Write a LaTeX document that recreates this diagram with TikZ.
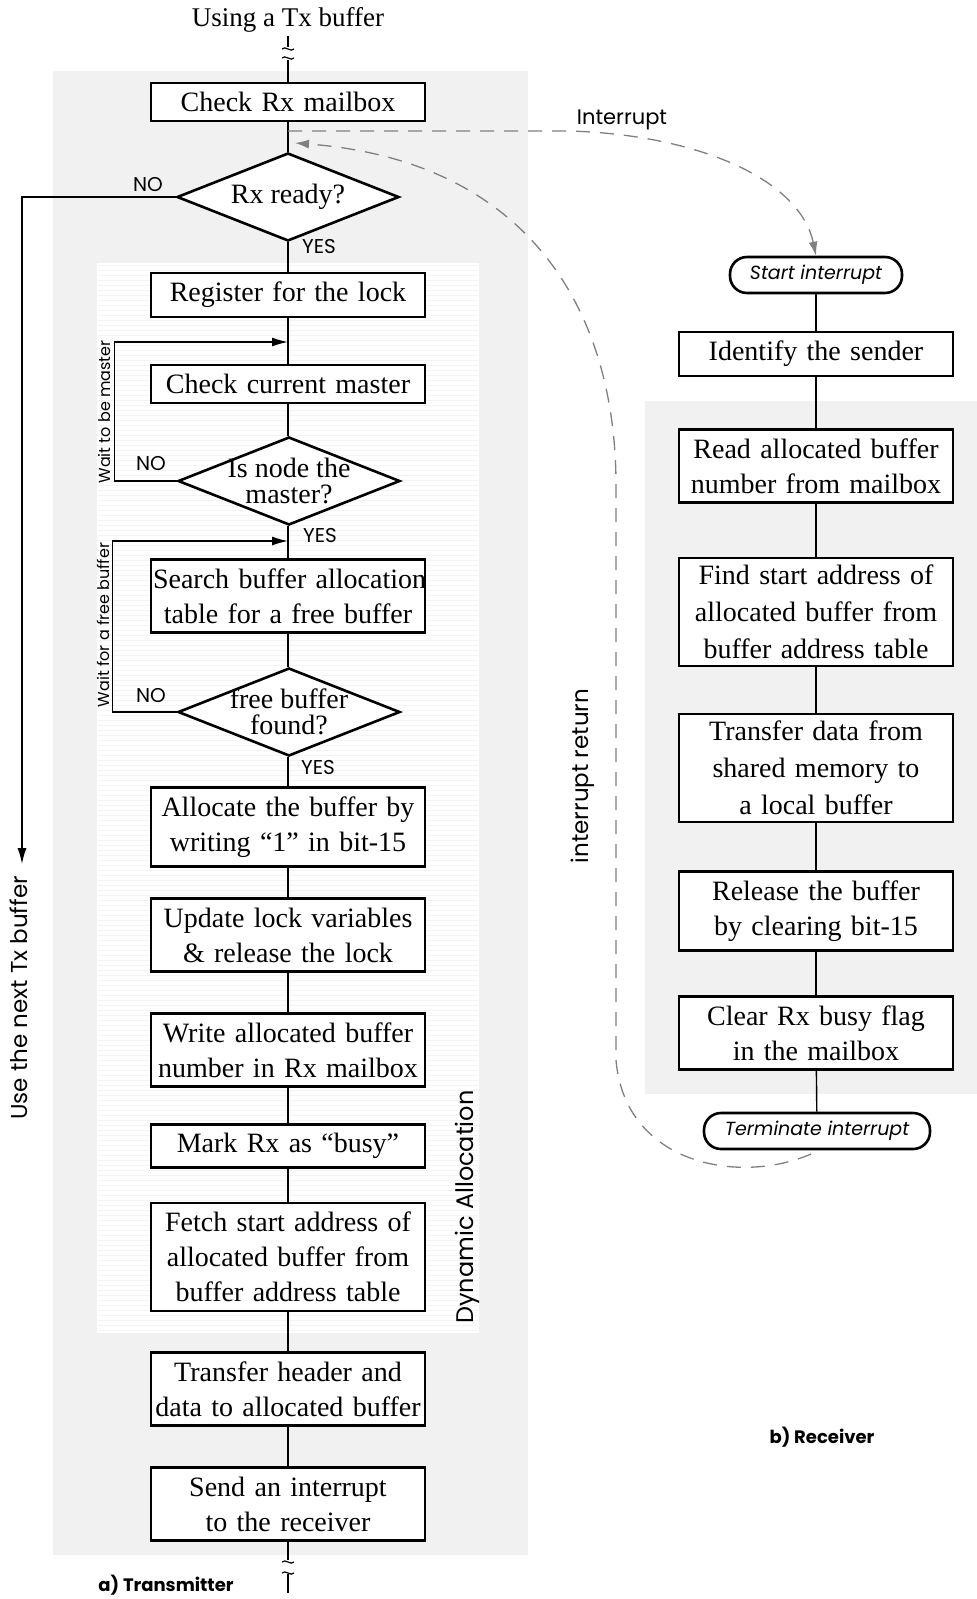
\documentclass[tikz,border=0pt]{standalone}
\usepackage{fontspec}
\setmainfont{Liberation Serif}
\newfontfamily\labelfont{Poppins}
\usetikzlibrary{arrows.meta,shapes.geometric}

\tikzset{
	proc/.style={draw, line width=2.6pt, fill=white, text width=270pt, align=center,
		inner xsep=2pt, inner ysep=9pt, font=\fontsize{28}{35}\selectfont},
	decision/.style={draw, diamond, line width=2.6pt, fill=white, inner sep=0pt,
		minimum width=222pt, minimum height=88pt},
	dtext/.style={align=center, inner sep=0pt, font=\fontsize{28}{26}\selectfont},
	terminal/.style={draw, line width=2.6pt, fill=white, rounded corners=17pt,
		minimum height=36pt, font=\labelfont\itshape\fontsize{19}{19}\selectfont},
	flow/.style={line width=1.4pt},
	loop/.style={flow, -{Latex[length=16pt,width=9pt]}},
	irq/.style={gray, line width=1.3pt, dash pattern=on 14pt off 10pt},
	tag/.style={font=\labelfont\fontsize{20}{20}\selectfont},
	side/.style={font=\labelfont\fontsize{16}{16}\selectfont, rotate=90},
	brk/.style={line width=1.2pt}
}

\begin{document}
\begin{tikzpicture}[x=1pt,y=-1pt]
	\useasboundingbox (0,0) rectangle (977,1599);

	% panels
	\fill[gray!11] (53,71) rectangle (528,1555);
	\fill[white] (97,263) rectangle (479,1333);
	\foreach \y in {265,270,...,1330}
		\draw[gray!9, line width=1pt] (98,\y) -- (478,\y);
	\fill[gray!11] (645,401) rectangle (977,1094);

	% transmitter
	\node (using) at (288,20) {\fontsize{27}{27}\selectfont Using a Tx buffer};
	\node[proc] (checkMb) at (288,102) {Check Rx mailbox};
	\node[decision] (rxReady) at (288,197) {};
	\node[dtext] at (rxReady) {Rx ready?};
	\node[proc] (register) at (288,295) {Register for the lock};
	\node[proc] (checkMaster) at (288,384) {Check current master};
	\node[decision] (isMaster) at (289,481) {};
	\node[dtext] at (isMaster) {Is node the\\master?};
	\node[proc] (search) at (288,596) {\mbox{Search buffer allocation}\\table for a free buffer};
	\node[decision] (found) at (289,712) {};
	\node[dtext] at (found) {free buffer\\found?};
	\node[proc] (alloc) at (288,827) {Allocate the buffer by\\writing ``1'' in bit-15};
	\node[proc] (update) at (288,935) {Update lock variables\\\& release the lock};
	\node[proc] (writeMb) at (288,1050) {Write allocated buffer\\number in Rx mailbox};
	\node[proc] (mark) at (288,1146) {Mark Rx as ``busy''};
	\node[proc] (fetch) at (288,1257) {Fetch start address of\\allocated buffer from\\buffer address table};
	\node[proc] (transfer) at (288,1389) {Transfer header and\\data to allocated buffer};
	\node[proc] (send) at (288,1504) {Send an interrupt\\to the receiver};

	\draw[brk] (using.south) -- (288,47);
	\draw[brk] (282,49) .. controls (285,45) and (291,53) .. (294,49);
	\draw[brk] (282,58) .. controls (285,54) and (291,62) .. (294,58);
	\draw[brk] (288,60) -- (checkMb.north);
	\coordinate (endTx) at (288,1593);
	\draw[brk] (send.south) -- (288,1560);
	\draw[brk] (282,1562) .. controls (285,1558) and (291,1566) .. (294,1562);
	\draw[brk] (282,1573) .. controls (285,1569) and (291,1577) .. (294,1573);
	\draw[brk] (288,1574) -- (endTx);

	\draw[flow] (checkMb) -- (rxReady);
	\draw[flow] (rxReady.south) -- (register.north);
	\draw[flow] (register) -- (checkMaster);
	\draw[flow] (checkMaster.south) -- (checkMaster.south |- isMaster.north);
	\draw[flow] (isMaster.south -| search.north) -- (search.north);
	\draw[flow] (search.south) -- (search.south |- found.north);
	\draw[flow] (found.south -| alloc.north) -- (alloc.north);
	\draw[flow] (alloc) -- (update);
	\draw[flow] (update) -- (writeMb);
	\draw[flow] (writeMb) -- (mark);
	\draw[flow] (mark) -- (fetch);
	\draw[flow] (fetch) -- (transfer);
	\draw[flow] (transfer) -- (send);

	\coordinate (masterIn) at (288,342);
	\coordinate (bufferIn) at (288,541);
	\coordinate (nextTx) at (22,864);
	\draw[loop] (isMaster.west) -- ++(-62,0) |- (masterIn);
	\draw[loop] (found.west) -- ++(-64,0) |- (bufferIn);
	\draw[loop] (rxReady.west) -| (nextTx);

	\node[tag] at (148,185) {NO};
	\node[tag] at (319,247) {YES};
	\node[tag] at (151,464) {NO};
	\node[tag] at (320,536) {YES};
	\node[tag] at (151,696) {NO};
	\node[tag] at (318,767) {YES};
	\node[side] at (104,412) {Wait to be master};
	\node[side] at (103,625) {Wait for a free buffer};
	\node[font=\labelfont\fontsize{23}{23}\selectfont, rotate=90] at (19,998) {Use the next Tx buffer};
	\node[font=\labelfont\fontsize{24}{24}\selectfont, rotate=90] at (467,1207) {Dynamic Allocation};
	\node[font=\labelfont\bfseries\fontsize{18}{18}\selectfont] at (166,1585) {a) Transmitter};

	% receiver
	\node[terminal, minimum width=172pt] (startInt) at (816,275) {Start interrupt};
	\node[proc] (identify) at (816,354) {Identify the sender};
	\node[proc] (readMb) at (816,466) {Read allocated buffer\\number from mailbox};
	\node[proc, inner ysep=7pt, font=\fontsize{28}{37}\selectfont] (findAddr) at (816,612) {Find start address of\\allocated buffer from\\buffer address table};
	\node[proc, inner ysep=7pt, font=\fontsize{28}{37}\selectfont] (copyData) at (816,768) {Transfer data from\\shared memory to\\a local buffer};
	\node[proc] (release) at (816,911) {Release the buffer\\by clearing bit-15};
	\node[proc] (clearBusy) at (816,1033) {Clear Rx busy flag\\in the mailbox};
	\node[terminal, minimum width=226pt] (termInt) at (817,1131) {Terminate interrupt};

	\draw[flow] (startInt) -- (identify);
	\draw[flow] (identify) -- (readMb);
	\draw[flow] (readMb) -- (findAddr);
	\draw[flow] (findAddr) -- (copyData);
	\draw[flow] (copyData) -- (release);
	\draw[flow] (release) -- (clearBusy);
	\draw[flow] (clearBusy) -- (termInt);

	\node[font=\labelfont\bfseries\fontsize{18}{18}\selectfont] at (822,1437) {b) Receiver};

	% interrupt and return
	\coordinate (irqOut) at (288,131);
	\coordinate (irqBack) at (295,143);
	\draw[irq, -{Latex[length=14pt,width=9pt]}] (irqOut) -- (570,131)
		.. controls (700,135) and (800,180) .. (startInt.north);
	\draw[irq, -{Latex[length=14pt,width=9pt]}] (811,1154) .. controls (740,1185) and (625,1165) .. (616,1060)
		-- (616,480) .. controls (614,300) and (520,160) .. (irqBack);
	\node[font=\labelfont\fontsize{21}{21}\selectfont] at (622,120) {Interrupt};
	\node[font=\labelfont\fontsize{23}{23}\selectfont, rotate=90] at (583,776) {interrupt return};
\end{tikzpicture}
\end{document}
